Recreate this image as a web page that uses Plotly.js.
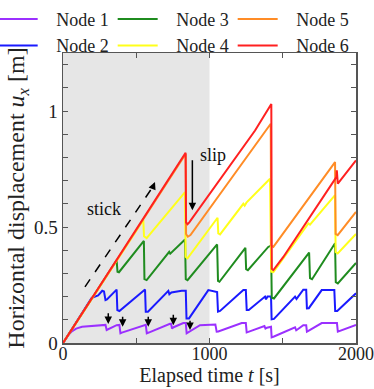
<!DOCTYPE html>
<html>
<head>
<meta charset="utf-8">
<script src="https://cdn.plot.ly/plotly-3.0.1.min.js"></script>
<style>
html,body{margin:0;padding:0;background:#fff;}
#chart{width:374px;height:389px;}
</style>
</head>
<body>
<div id="chart"></div>
<script>
// ---- data ----
const seriesNames = ["Node 1", "Node 2", "Node 3", "Node 4", "Node 5", "Node 6"];

const node1_t = [0, 35, 60, 90, 130, 200, 273, 290, 298, 310, 366, 385, 392, 402, 548, 565, 572, 585, 730, 738, 744, 755, 821, 838, 844, 860, 935, 1040, 1049, 1060, 1220, 1248, 1254, 1265, 1365, 1375, 1382, 1392, 1420, 1424, 1440, 1584, 1592, 1600, 1640, 1660, 1665, 1675, 1766, 1870, 1876, 1890, 1993, 2000];
const node1_u = [0, 0.033, 0.05, 0.062, 0.07, 0.074, 0.077, 0.078, 0.056, 0.06, 0.077, 0.078, 0.042, 0.045, 0.077, 0.078, 0.042, 0.045, 0.083, 0.083, 0.062, 0.068, 0.086, 0.086, 0.042, 0.048, 0.077, 0.08, 0.049, 0.05, 0.086, 0.086, 0.046, 0.048, 0.073, 0.073, 0.062, 0.066, 0.07, 0.024, 0.028, 0.068, 0.055, 0.058, 0.077, 0.077, 0.049, 0.052, 0.086, 0.086, 0.049, 0.052, 0.077, 0.078];

const node2_t = [0, 196, 240, 268, 280, 290, 300, 366, 371, 385, 560, 565, 580, 719, 726, 740, 810, 838, 843, 860, 992, 1052, 1058, 1072, 1231, 1248, 1254, 1268, 1379, 1386, 1396, 1420, 1424, 1440, 1584, 1594, 1640, 1660, 1665, 1678, 1766, 1852, 1858, 1872, 2000];
const node2_u = [0, 0.195, 0.205, 0.225, 0.222, 0.185, 0.188, 0.23, 0.142, 0.138, 0.231, 0.135, 0.135, 0.225, 0.21, 0.218, 0.225, 0.225, 0.106, 0.106, 0.228, 0.22, 0.135, 0.138, 0.228, 0.228, 0.142, 0.142, 0.2, 0.188, 0.2, 0.2, 0.102, 0.104, 0.2, 0.19, 0.23, 0.23, 0.149, 0.15, 0.228, 0.228, 0.138, 0.138, 0.214];

const node3_t = [0, 366, 372, 382, 552, 556, 571, 725, 732, 740, 833, 838, 850, 1052, 1058, 1068, 1231, 1245, 1250, 1262, 1401, 1420, 1425, 1440, 1680, 1686, 1700, 1857, 1862, 1876, 2000];
const node3_u = [0, 0.357, 0.307, 0.305, 0.44, 0.275, 0.271, 0.393, 0.385, 0.39, 0.446, 0.275, 0.271, 0.425, 0.268, 0.264, 0.4, 0.41, 0.318, 0.314, 0.414, 0.42, 0.195, 0.192, 0.39, 0.28, 0.275, 0.43, 0.262, 0.257, 0.345];

const node4_t = [0, 548, 553, 571, 833, 837, 850, 1055, 1060, 1072, 1231, 1240, 1252, 1413, 1421, 1436, 1675, 1686, 1857, 1861, 1875, 2000];
const node4_u = [0, 0.53, 0.46, 0.452, 0.65, 0.372, 0.365, 0.54, 0.472, 0.468, 0.6, 0.592, 0.605, 0.708, 0.307, 0.305, 0.515, 0.51, 0.637, 0.392, 0.386, 0.47];

const node5_t = [0, 837, 840, 852, 870, 1311, 1418, 1421, 1436, 1857, 1861, 1875, 2000];
const node5_u = [0, 0.815, 0.47, 0.458, 0.465, 0.852, 0.945, 0.42, 0.414, 0.78, 0.47, 0.465, 0.565];

const node6_t = [0, 837, 840, 850, 862, 1311, 1422, 1425, 1436, 1504, 1866, 1869, 1876, 2000];
const node6_u = [0, 0.82, 0.52, 0.512, 0.52, 0.916, 1.03, 0.32, 0.314, 0.371, 0.715, 0.744, 0.687, 0.787];

const xTickVals = [0, 500, 1000, 1500, 2000];
const xTickText = ["0", "", "1000", "", "2000"];
const yTickVals = [0, 0.1, 0.2, 0.3, 0.4, 0.5, 0.6, 0.7, 0.8, 0.9, 1.0, 1.1, 1.2];
const yTickText = ["0", "", "", "", "", "0.5", "", "", "", "", "1", "", ""];

// ---- styling ----
const colors = ["#9b30ff", "#1a1aff", "#1f8c1f", "#ffff1a", "#ff8c26", "#ff2020"];
const legendRanks = [1, 4, 2, 5, 3, 6];
const allT = [node1_t, node2_t, node3_t, node4_t, node5_t, node6_t];
const allU = [node1_u, node2_u, node3_u, node4_u, node5_u, node6_u];
const serif = "'Liberation Serif', 'Times New Roman', Times, serif";

const traces = seriesNames.map((n, i) => ({
  type: "scatter", mode: "lines",
  x: allT[i], y: allU[i],
  name: "\u00a0\u00a0\u00a0" + n,
  legendrank: legendRanks[i],
  line: {color: colors[i], width: 2}
}));

const arrowBase = {xref: "x", yref: "y", axref: "x", ayref: "y", text: "", showarrow: true,
  arrowhead: 2, arrowsize: 1, arrowwidth: 1.5, arrowcolor: "#000", standoff: 0, startstandoff: 0};

const smallArrows = [[309, 0.135, 0.082], [407, 0.12, 0.07], [582, 0.12, 0.07], [753, 0.128, 0.077], [867, 0.102, 0.056]];

const annotations = [
  {xref: "x", yref: "y", x: 280, y: 0.576, text: "stick", showarrow: false, font: {family: serif, size: 18, color: "#111"}},
  {xref: "x", yref: "y", x: 1024, y: 0.809, text: "slip", showarrow: false, font: {family: serif, size: 18, color: "#111"}},
  Object.assign({}, arrowBase, {x: 883, y: 0.572, ax: 883, ay: 0.794}),
  Object.assign({}, arrowBase, {x: 628, y: 0.694, ax: 608, ay: 0.664})
].concat(smallArrows.map(a => Object.assign({}, arrowBase, {x: a[0], y: a[2], ax: a[0], ay: a[1]})));

const layout = {
  width: 374, height: 389,
  margin: {l: 63, r: 18, t: 53, b: 46, autoexpand: false},
  paper_bgcolor: "#fff", plot_bgcolor: "#fff",
  font: {family: serif, size: 19, color: "#222"},
  showlegend: true,
  legend: {orientation: "h", x: -0.24, xanchor: "left", y: 1.18, yanchor: "top",
    entrywidth: 65, entrywidthmode: "pixels", font: {family: serif, size: 18, color: "#222"},
    bgcolor: "rgba(0,0,0,0)", tracegroupgap: 0, itemwidth: 40},
  xaxis: {range: [0, 2000], tickvals: xTickVals, ticktext: xTickText, ticks: "inside", ticklen: 5,
    tickcolor: "#555", showline: true, linecolor: "#555", linewidth: 1.5, mirror: "ticks",
    showgrid: false, zeroline: false, ticklabeloverflow: "allow", ticklabelstandoff: -6,
    tickfont: {family: serif, size: 18, color: "#222"},
    title: {text: "Elapsed time <i>t</i> [s]", font: {family: serif, size: 20, color: "#222"}, standoff: 2}},
  yaxis: {range: [0, 1.25], tickvals: yTickVals, ticktext: yTickText, ticks: "inside", ticklen: 5,
    tickcolor: "#555", showline: true, linecolor: "#555", linewidth: 1.5, mirror: "ticks",
    showgrid: false, zeroline: false, ticklabeloverflow: "allow",
    tickfont: {family: serif, size: 19, color: "#222"},
    title: {text: "Horizontal displacement <i>u<sub>x</sub></i> [m]", font: {family: serif, size: 24, color: "#222"}, standoff: 2}},
  shapes: [
    {type: "rect", xref: "x", yref: "paper", x0: 0, x1: 1000, y0: 0, y1: 1, fillcolor: "#e6e6e6", line: {width: 0}, layer: "below"},
    {type: "line", xref: "x", yref: "y", x0: 150, y0: 0.242, x1: 615, y1: 0.675, line: {color: "#000", width: 1.5, dash: "dash"}}
  ],
  annotations: annotations
};

Plotly.newPlot("chart", traces, layout, {staticPlot: true, displayModeBar: false});
</script>
</body>
</html>
